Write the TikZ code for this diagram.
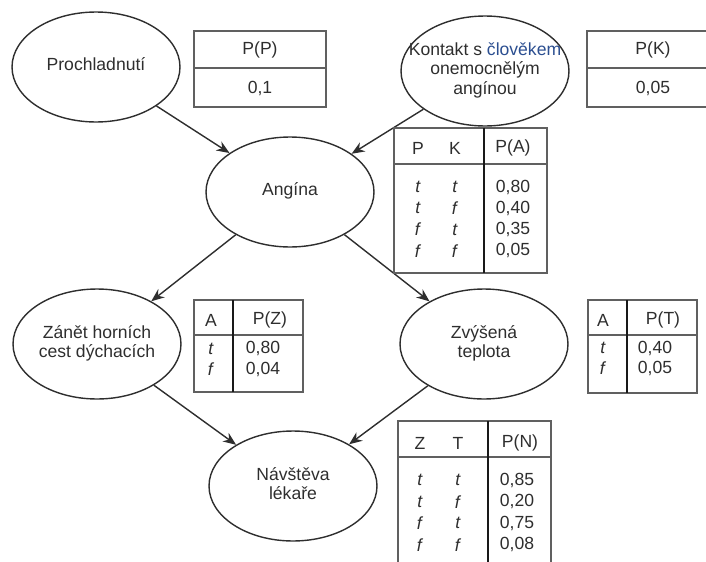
\documentclass[tikz,border=0pt]{standalone}
\usepackage{fontspec}
\setmainfont{Liberation Sans}
\usetikzlibrary{arrows.meta,shapes.geometric}

\definecolor{inkgray}{HTML}{2E2E2E}
\definecolor{framegray}{HTML}{606060}
\definecolor{markblue}{HTML}{2B4E90}
\newcommand{\etext}[1]{\makebox[0pt]{\begin{tabular}{@{}c@{}}#1\end{tabular}}}

\begin{document}
\begin{tikzpicture}[
    x=0.02cm, y=-0.02cm,
    font=\fontsize{10}{11}\selectfont,
    event/.style={draw=inkgray, ellipse, line width=0.8pt, minimum width=3.36cm, minimum height=2.2cm, inner sep=0pt, text=inkgray},
    cpt/.style={draw=framegray, line width=0.9pt},
    cptrule/.style={draw=black!90, line width=0.7pt},
    cell/.style={inner sep=0pt, text=inkgray},
    link/.style={-{Stealth[length=2.6mm,width=2.1mm]}, draw=inkgray, line width=0.8pt}
]
\useasboundingbox (0,0) rectangle (706,561);

% network
\node[event] (prochl) at (96,67) {\etext{Prochladnutí}};
\node[event] (kontakt) at (485,71) {\etext{Kontakt s \textcolor{markblue}{člověkem}\\onemocnělým\\angínou}};
\node[event] (angina) at (290,192) {\etext{Angína}};
\node[event] (zanet) at (97,344) {\etext{Zánět horních\\cest dýchacích}};
\node[event] (zvysena) at (484,344) {\etext{Zvýšená\\teplota}};
\node[event] (navsteva) at (293,486) {\etext{Návštěva\\lékaře}};

\draw[link] (prochl) -- (angina);
\draw[link] (kontakt) -- (angina);
\draw[link] (angina) -- (zanet);
\draw[link] (angina) -- (zvysena);
\draw[link] (zanet) -- (navsteva);
\draw[link] (zvysena) -- (navsteva);

% P(P)
\draw[cpt] (194,31) rectangle (326,107);
\draw[cpt] (194,68) -- (326,68);
\node[cell] (pp-h) at (260,50) {P(P)};
\node[cell] (pp-v) at (260,88) {0,1};

% P(K)
\draw[cpt] (587,31) rectangle (719,107);
\draw[cpt] (587,68) -- (719,68);
\node[cell] (pk-h) at (653,50) {P(K)};
\node[cell] (pk-v) at (653,88) {0,05};

% P(A)
\draw[cpt] (394,128) rectangle (547,273);
\draw[cpt] (394,164) -- (547,164);
\draw[cptrule] (484,128) -- (484,273);
\node[cell] (pa-p) at (418,148) {P};
\node[cell] (pa-k) at (455,148) {K};
\node[cell] (pa-h) at (513,148) {P(A)};
\foreach \p/\k/\v [count=\i] in {t/t/{0,80}, t/f/{0,40}, f/t/{0,35}, f/f/{0,05}} {
  \node[cell] (pa-p\i) at (418,165.7+21.3*\i) {\textit{\p}};
  \node[cell] (pa-k\i) at (455,165.7+21.3*\i) {\textit{\k}};
  \node[cell] (pa-v\i) at (513,165.7+21.3*\i) {\v};
}

% P(Z)
\draw[cpt] (194,300) rectangle (303,392);
\draw[cpt] (194,335) -- (303,335);
\draw[cptrule] (233,300) -- (233,392);
\node[cell] (pz-a) at (211,320) {A};
\node[cell] (pz-h) at (270,320) {P(Z)};
\foreach \a/\v [count=\i] in {t/{0,80}, f/{0,04}} {
  \node[cell] (pz-a\i) at (211,328+20.5*\i) {\textit{\a}};
  \node[cell] (pz-v\i) at (263,328+20.5*\i) {\v};
}

% P(T)
\draw[cpt] (588,300) rectangle (697,393);
\draw[cpt] (588,335) -- (697,335);
\draw[cptrule] (627,300) -- (627,393);
\node[cell] (pt-a) at (603,320) {A};
\node[cell] (pt-h) at (663,320) {P(T)};
\foreach \a/\v [count=\i] in {t/{0,40}, f/{0,05}} {
  \node[cell] (pt-a\i) at (603,327.5+20.5*\i) {\textit{\a}};
  \node[cell] (pt-v\i) at (655,327.5+20.5*\i) {\v};
}

% P(N)
\draw[cpt] (398,421) rectangle (551,580);
\draw[cpt] (398,457) -- (551,457);
\draw[cptrule] (488,421) -- (488,580);
\node[cell] (pn-z) at (420,443) {Z};
\node[cell] (pn-t) at (458,443) {T};
\node[cell] (pn-h) at (520,443) {P(N)};
\foreach \z/\t/\v [count=\i] in {t/t/{0,85}, t/f/{0,20}, f/t/{0,75}, f/f/{0,08}} {
  \node[cell] (pn-z\i) at (420,458.5+21.6*\i) {\textit{\z}};
  \node[cell] (pn-t\i) at (458,458.5+21.6*\i) {\textit{\t}};
  \node[cell] (pn-v\i) at (517,458.5+21.6*\i) {\v};
}
\end{tikzpicture}
\end{document}
